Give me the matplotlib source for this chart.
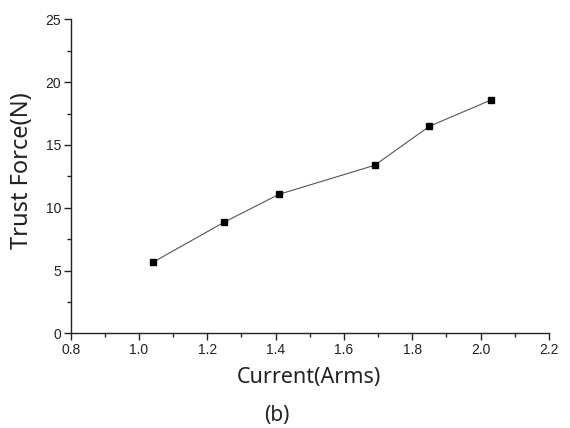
import matplotlib
matplotlib.use("Agg")
import matplotlib.pyplot as plt
from matplotlib.ticker import MultipleLocator

# data
current = [1.04, 1.25, 1.41, 1.69, 1.85, 2.03]
force = [5.65, 8.86, 11.07, 13.38, 16.48, 18.57]

x_ticks = [0.8, 1.0, 1.2, 1.4, 1.6, 1.8, 2.0, 2.2]
y_ticks = [0, 5, 10, 15, 20, 25]

fig = plt.figure(figsize=(5.7, 4.28), dpi=100)
ax = fig.add_axes([0.124, 0.221, 0.839, 0.734])

ax.plot(current, force, color="#555555", linewidth=0.8,
        marker="s", markersize=5, markerfacecolor="black", markeredgecolor="black")

ax.set_xlim(0.8, 2.2)
ax.set_ylim(0, 25)
ax.set_xticks(x_ticks)
ax.set_yticks(y_ticks)
ax.set_xticklabels(["%.1f" % v for v in x_ticks])
ax.xaxis.set_minor_locator(MultipleLocator(0.1))
ax.yaxis.set_minor_locator(MultipleLocator(2.5))

for s in ["top", "right"]:
    ax.spines[s].set_visible(False)
for s in ["left", "bottom"]:
    ax.spines[s].set_linewidth(1.0)
    ax.spines[s].set_color("#222222")

ax.tick_params(which="major", direction="out", length=5, width=1, color="#222222",
               labelsize=10, labelcolor="#222222", pad=2)
ax.tick_params(which="minor", direction="out", length=3, width=1, color="#222222")
for lab in ax.get_xticklabels() + ax.get_yticklabels():
    lab.set_family("Liberation Sans")

lbl = dict(family="Noto Sans", color="#222222")
fig.text(309 / 570, 1 - 377 / 428, "Current(Arms)", ha="center", va="center", fontsize=15.5, **lbl)
fig.text(22 / 570, 1 - 171 / 428, "Trust Force(N)", ha="center", va="center", rotation=90,
         fontsize=17, **lbl)
fig.text(277 / 570, 1 - 416 / 428, "(b)", ha="center", va="center", fontsize=15, **lbl)

fig.savefig("out.png", dpi=100)
